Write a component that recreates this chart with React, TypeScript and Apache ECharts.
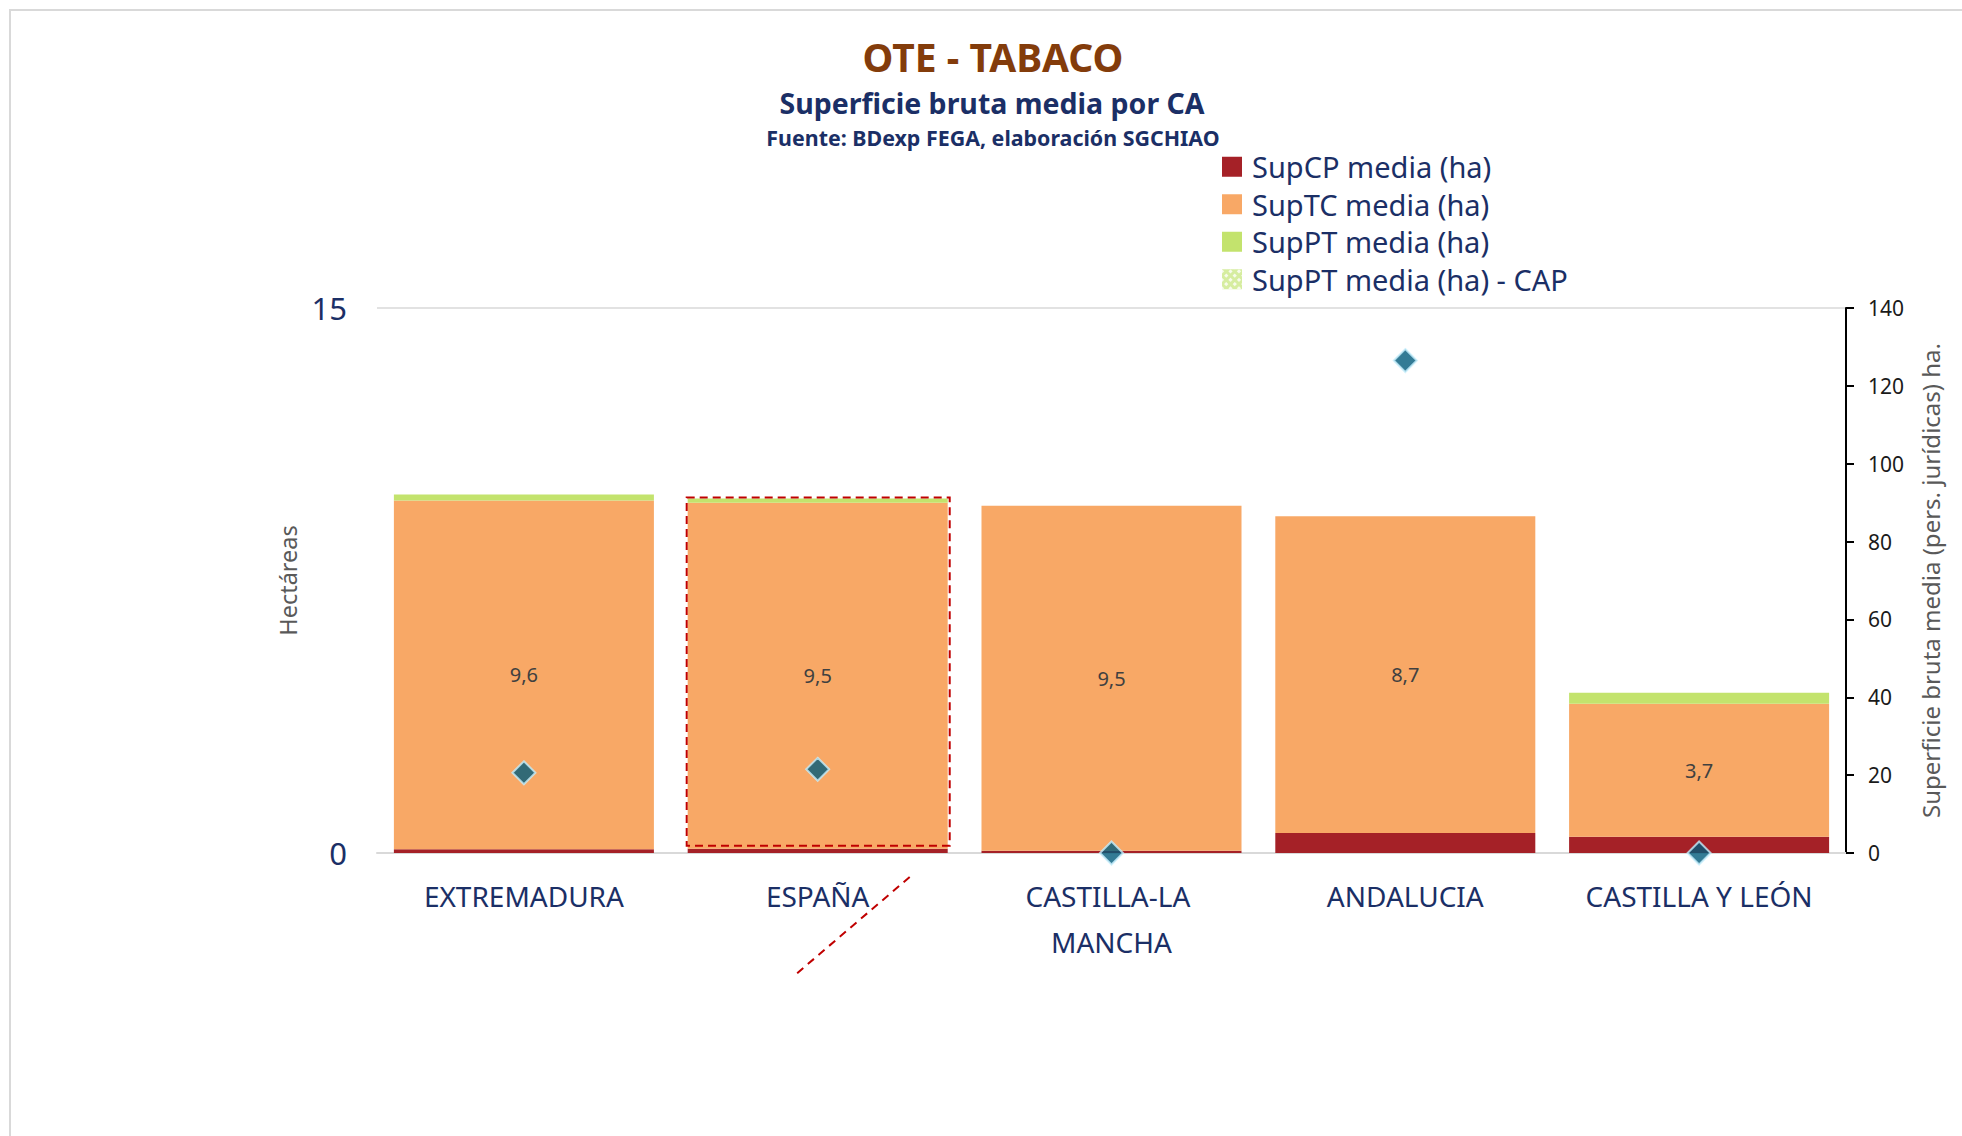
import React, { useEffect, useRef } from "react";
import * as echarts from "echarts";

const categories = ["EXTREMADURA", "ESPAÑA", "CASTILLA-LA MANCHA", "ANDALUCIA", "CASTILLA Y LEÓN"];
const supCP = [0.1, 0.12, 0.06, 0.55, 0.45];
const supTC = [9.6, 9.52, 9.5, 8.72, 3.66];
const supPT = [0.17, 0.12, 0, 0, 0.3];
const supPTCap = [0, 0, 0, 0, 0];
const supPersJur = [20.6, 21.5, 0, 126.5, 0];
const leftTicks = { min: 0, max: 15, interval: 15 };
const rightTicks = { min: 0, max: 140, interval: 20 };

const FONT = "'Noto Sans', 'Open Sans', sans-serif";
const NAVY = "#1B2F66";

export default function App() {
  const ref = useRef<HTMLDivElement>(null);
  useEffect(() => {
    const chart = echarts.init(ref.current!, null, { renderer: "svg" });
    const option: any = {
      animation: false,
      textStyle: { fontFamily: FONT },
      grid: { left: 377, right: 116, top: 308, bottom: 283 },
      legend: {
        orient: "vertical",
        left: 1217,
        top: 147,
        itemWidth: 20,
        itemHeight: 20,
        itemGap: 8,
        icon: "rect",
        textStyle: { fontSize: 29, color: NAVY, lineHeight: 29.5, fontFamily: FONT, padding: [0, 0, 0, 5] },
        data: ["SupCP media (ha)", "SupTC media (ha)", "SupPT media (ha)", "SupPT media (ha) - CAP"],
      },
      xAxis: {
        type: "category",
        data: categories,
        axisTick: { show: false },
        axisLine: { lineStyle: { color: "#D9D9D9", width: 2 } },
        axisLabel: {
          fontSize: 28,
          color: NAVY,
          lineHeight: 46,
          margin: 20,
          width: 270,
          overflow: "break",
          interval: 0,
          fontFamily: FONT,
        },
      },
      yAxis: [
        {
          type: "value",
          ...leftTicks,
          name: "Hectáreas",
          nameLocation: "middle",
          nameRotate: 90,
          nameGap: 77,
          nameTextStyle: { fontSize: 23.5, color: "#595959", fontFamily: FONT },
          axisLabel: { fontSize: 31, color: NAVY, margin: 30, fontFamily: FONT },
          axisLine: { show: false },
          axisTick: { show: false },
          splitLine: { lineStyle: { color: "#D9D9D9", width: 1.5 } },
        },
        {
          type: "value",
          position: "right",
          ...rightTicks,
          name: "Superficie bruta media (pers. jurídicas) ha.",
          nameLocation: "middle",
          nameRotate: 90,
          nameGap: 72,
          nameTextStyle: { fontSize: 24, color: "#595959", fontFamily: FONT },
          axisLabel: { fontSize: 21, color: "#1a1a1a", margin: 22, fontFamily: FONT },
          axisLine: { show: true, lineStyle: { color: "#000", width: 2 } },
          axisTick: { show: true, inside: false, length: 8, lineStyle: { color: "#000", width: 2 } },
          splitLine: { show: false },
        },
      ],
      series: [
        {
          name: "SupCP media (ha)",
          type: "bar",
          stack: "s",
          barCategoryGap: "11.5%",
          data: supCP,
          itemStyle: { color: "#A52127" },
        },
        {
          name: "SupTC media (ha)",
          type: "bar",
          stack: "s",
          data: supTC,
          itemStyle: { color: "#F8A866" },
          label: {
            show: true,
            position: "inside",
            fontSize: 20,
            color: "#404040",
            fontFamily: FONT,
            formatter: (p: any) => Number(p.value).toFixed(1).replace(".", ","),
          },
        },
        {
          name: "SupPT media (ha)",
          type: "bar",
          stack: "s",
          data: supPT,
          itemStyle: { color: "#C3E36D" },
        },
        {
          name: "SupPT media (ha) - CAP",
          type: "bar",
          stack: "s",
          data: supPTCap,
          itemStyle: {
            color: "#D6EDA0",
            decal: {
              symbol: "rect",
              symbolSize: 1,
              color: "rgba(255,255,255,0.8)",
              dashArrayX: [[3, 3]],
              dashArrayY: [3, 3],
              rotation: Math.PI / 4,
            },
          },
        },
        {
          name: "SupPersJur",
          type: "scatter",
          yAxisIndex: 1,
          symbol: "diamond",
          symbolSize: 23,
          data: supPersJur,
          itemStyle: { color: "#005A7A", borderColor: "#C6EDFB", borderWidth: 2 },
          z: 10,
        },
      ],
      graphic: [
        {
          type: "rect",
          id: "border",
          shape: { x: 10, y: 10, width: 2000, height: 1200 },
          style: { fill: "none", stroke: "#D9D9D9", lineWidth: 2 },
          silent: true,
        },
        {
          type: "text",
          x: 993,
          y: 56,
          style: { text: "OTE - TABACO", fill: "#833C0B", fontSize: 39, fontWeight: "bold", fontFamily: FONT, align: "center", verticalAlign: "middle" },
        },
        {
          type: "text",
          x: 992,
          y: 103,
          style: { text: "Superficie bruta media por CA", fill: NAVY, fontSize: 28.5, fontWeight: "bold", fontFamily: FONT, align: "center", verticalAlign: "middle" },
        },
        {
          type: "text",
          x: 993,
          y: 137,
          style: { text: "Fuente: BDexp FEGA, elaboración SGCHIAO", fill: NAVY, fontSize: 21.4, fontWeight: "bold", fontFamily: FONT, align: "center", verticalAlign: "middle" },
        },
      ],
    };
    chart.setOption(option);

    const i = 1;
    const cx = chart.convertToPixel({ xAxisIndex: 0 }, categories[i]) as number;
    const nx = chart.convertToPixel({ xAxisIndex: 0 }, categories[i + 1]) as number;
    const bw = (nx - cx) * 0.885;
    const total = supCP[i] + supTC[i] + supPT[i];
    const yTop = chart.convertToPixel({ yAxisIndex: 0 }, total) as number;
    const yBot = chart.convertToPixel({ yAxisIndex: 0 }, supCP[i]) as number;
    const y0 = chart.convertToPixel({ yAxisIndex: 0 }, 0) as number;
    chart.setOption({
      graphic: [
        {
          type: "rect",
          id: "hl",
          shape: { x: cx - bw / 2 - 1, y: yTop - 1, width: bw + 3, height: yBot - 3 - (yTop - 1) },
          style: { fill: "none", stroke: "#C00000", lineWidth: 2, lineDash: [8, 5] },
          z: 20,
          silent: true,
        },
        {
          type: "line",
          id: "diag",
          shape: { x1: cx + 92, y1: y0 + 24, x2: cx - 25, y2: y0 + 124 },
          style: { stroke: "#C00000", lineWidth: 2, lineDash: [8, 6] },
          z: 20,
          silent: true,
        },
      ],
    });
    return () => chart.dispose();
  }, []);
  return <div ref={ref} style={{ position: "fixed", left: 0, top: 0, width: 1962, height: 1136, background: "#fff" }} />;
}
